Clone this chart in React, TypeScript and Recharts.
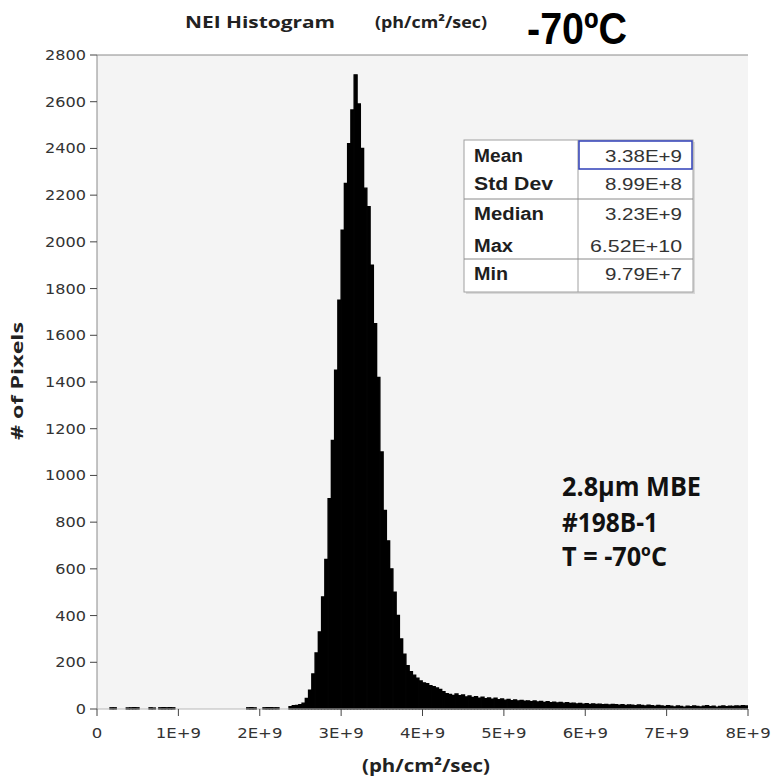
import { BarChart, Bar, XAxis, YAxis, CartesianGrid, ReferenceLine } from "recharts";

// histogram bins are 0.04E+9 wide, one row per 1E+9 decade
const BIN_WIDTH = 0.04e9;

const COUNTS_0E9 = [0, 0, 0, 0, 5, 5, 0, 0, 0, 4, 5, 6, 5, 0, 0, 0, 5, 4, 0, 5, 6, 5, 6, 5, 0];
const COUNTS_1E9 = [0, 0, 0, 0, 0, 0, 0, 0, 0, 0, 0, 0, 0, 0, 0, 0, 0, 0, 0, 0, 0, 5, 6, 5, 0];
const COUNTS_2E9 = [0, 5, 6, 6, 5, 5, 0, 0, 0, 10, 14, 15, 18, 25, 45, 80, 150, 240, 330, 480, 640, 900, 1150, 1450, 1750];
const COUNTS_3E9 = [2050, 2250, 2420, 2565, 2715, 2590, 2400, 2230, 2150, 1900, 1650, 1420, 1100, 850, 720, 600, 500, 400, 300, 235, 185, 160, 145, 132, 120];
const COUNTS_4E9 = [112, 108, 100, 96, 90, 84, 74, 66, 62, 58, 64, 57, 60, 52, 56, 49, 53, 46, 50, 44, 47, 42, 46, 40, 43];
const COUNTS_5E9 = [38, 41, 36, 39, 34, 37, 33, 35, 31, 34, 30, 32, 28, 31, 27, 29, 26, 28, 25, 27, 24, 25, 22, 24, 21];
const COUNTS_6E9 = [23, 20, 22, 19, 21, 18, 20, 17, 19, 18, 16, 18, 15, 17, 16, 14, 17, 15, 13, 16, 14, 12, 15, 13, 11];
const COUNTS_7E9 = [14, 12, 9, 13, 11, 8, 12, 10, 13, 11, 9, 12, 14, 10, 12, 8, 11, 13, 10, 12, 11, 13, 12, 14, 13];

const X_TICKS = [0, 1e9, 2e9, 3e9, 4e9, 5e9, 6e9, 7e9, 8e9];
const Y_TICKS = [0, 200, 400, 600, 800, 1000, 1200, 1400, 1600, 1800, 2000, 2200, 2400, 2600, 2800];

const STAT_LABELS = ["Mean", "Std Dev", "Median", "Max", "Min"];
const STAT_VALUES = ["3.38E+9", "8.99E+8", "3.23E+9", "6.52E+10", "9.79E+7"];

const NOTES = ["2.8µm MBE", "#198B-1", "T = -70ºC"];

const counts = [
  ...COUNTS_0E9,
  ...COUNTS_1E9,
  ...COUNTS_2E9,
  ...COUNTS_3E9,
  ...COUNTS_4E9,
  ...COUNTS_5E9,
  ...COUNTS_6E9,
  ...COUNTS_7E9,
];
const data = counts.map((c, i) => ({ x: (i + 0.5) * BIN_WIDTH, count: c }));

const fmtX = (v: number) => (v === 0 ? "0" : `${v / 1e9}E+9`);

function XTick(props: any) {
  const { x, y, payload } = props;
  return (
    <text
      transform={`translate(${x},${y + 20}) scale(1.18,1)`}
      textAnchor="middle"
      fontFamily="DejaVu Sans"
      fontSize={14}
      fill="#333"
    >
      {fmtX(payload.value)}
    </text>
  );
}

function YTick(props: any) {
  const { x, y, payload } = props;
  return (
    <text
      transform={`translate(${x - 2},${y + 5}) scale(1.15,1)`}
      textAnchor="end"
      fontFamily="DejaVu Sans"
      fontSize={14}
      fill="#333"
    >
      {payload.value}
    </text>
  );
}

const LABEL_W = [49, 79, 70, 39, 34];
const VALUE_W = [77, 77, 77, 92, 77];
const ROW_Y = [162, 190, 220, 252, 280];
const NOTE_W = [139, 96, 105];
const NOTE_Y = [496, 532, 566];

export default function App() {
  return (
    <div style={{ position: "fixed", left: 0, top: 0, width: 778, height: 778, background: "#fff" }}>
      <BarChart
        width={778}
        height={778}
        data={data}
        margin={{ top: 55, right: 30, bottom: 39, left: 37 }}
        barCategoryGap={0}
        barGap={0}
      >
        <CartesianGrid fill="#f4f4f4" horizontal={false} vertical={false} />
        <XAxis
          type="number"
          dataKey="x"
          domain={[0, 8e9]}
          ticks={X_TICKS}
          interval={0}
          height={30}
          tickSize={7}
          tick={(p: any) => <XTick {...p} />}
          stroke="#b8b8b8"
          tickLine={{ stroke: "#444" }}
          allowDataOverflow
        />
        <YAxis
          type="number"
          domain={[0, 2800]}
          ticks={Y_TICKS}
          interval={0}
          width={60}
          tickSize={7}
          tick={(p: any) => <YTick {...p} />}
          stroke="#8a8a8a"
          tickLine={{ stroke: "#444" }}
        />
        <ReferenceLine y={2800} stroke="#8a8a8a" />
        <Bar dataKey="count" fill="#000" stroke="#000" strokeWidth={1.4} barSize={3.6} isAnimationActive={false} />
      </BarChart>

      <svg
        width={778}
        height={778}
        style={{ position: "absolute", left: 0, top: 0, pointerEvents: "none" }}
      >
        {/* title */}
        <text x={185} y={28} fontFamily="Open Sans" fontWeight={700} fontSize={16} fill="#222" textLength={150} lengthAdjust="spacingAndGlyphs">
          NEI Histogram
        </text>
        <text x={375} y={28} fontFamily="Open Sans" fontWeight={700} fontSize={16} fill="#222" textLength={112} lengthAdjust="spacingAndGlyphs">
          (ph/cm²/sec)
        </text>
        <text x={527} y={44} fontFamily="Liberation Sans Narrow, Liberation Sans" fontWeight="bold" fontSize={45} fill="#000" textLength={100} lengthAdjust="spacingAndGlyphs">
          -70ºC
        </text>

        {/* axis titles */}
        <text transform="translate(23,381) rotate(-90)" textAnchor="middle" fontFamily="Open Sans" fontWeight={700} fontSize={16} fill="#222" textLength={118} lengthAdjust="spacingAndGlyphs">
          # of Pixels
        </text>
        <text x={362} y={772} fontFamily="Open Sans" fontWeight={700} fontSize={18} fill="#222" textLength={128} lengthAdjust="spacingAndGlyphs">
          (ph/cm²/sec)
        </text>

        {/* stats table */}
        <rect x={466} y={142} width={229} height={152} fill="#d8d8d8" />
        <rect x={464} y={140} width={229} height={152} fill="#fff" stroke="#a0a0a0" />
        <line x1={578} y1={140} x2={578} y2={292} stroke="#a0a0a0" />
        <line x1={464} y1={199} x2={693} y2={199} stroke="#8a8a8a" />
        <line x1={464} y1={259} x2={693} y2={259} stroke="#8a8a8a" />
        <rect x={579} y={141} width={113} height={28} fill="none" stroke="#2f3fb8" strokeWidth={1.5} />
        {STAT_LABELS.map((s, i) => (
          <text key={s} x={474} y={ROW_Y[i]} fontFamily="Liberation Sans" fontWeight="bold" fontSize={18} fill="#1e1e1e" textLength={LABEL_W[i]} lengthAdjust="spacingAndGlyphs">
            {s}
          </text>
        ))}
        {STAT_VALUES.map((s, i) => (
          <text key={s} x={682} y={ROW_Y[i]} textAnchor="end" fontFamily="Liberation Sans" fontSize={16} fill="#333" textLength={VALUE_W[i]} lengthAdjust="spacingAndGlyphs">
            {s}
          </text>
        ))}

        {/* sample notes */}
        {NOTES.map((s, i) => (
          <text key={s} x={562} y={NOTE_Y[i]} fontFamily="Open Sans" fontWeight={700} fontSize={26} fill="#111" textLength={NOTE_W[i]} lengthAdjust="spacingAndGlyphs">
            {s}
          </text>
        ))}
      </svg>
    </div>
  );
}
